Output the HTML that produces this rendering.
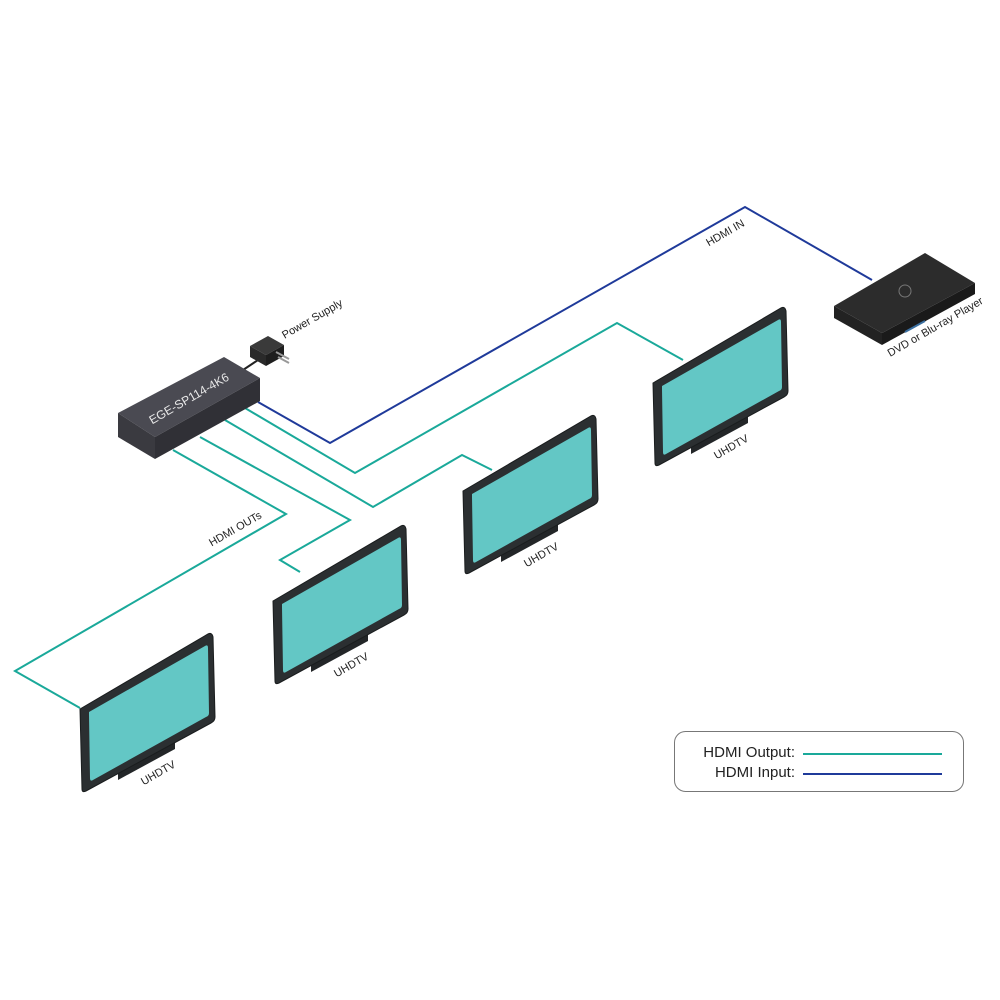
<!DOCTYPE html>
<html><head><meta charset="utf-8"><style>
html,body{margin:0;padding:0;background:#fff;}
svg{display:block;}
text{font-family:"Liberation Sans",sans-serif;}
</style></head><body>
<svg width="1000" height="1000" viewBox="0 0 1000 1000" xmlns="http://www.w3.org/2000/svg">
<defs>
<g id="tv">
  <polygon points="38,60 95,30 95,46 38,77" fill="#232628"/>
  <path d="M0,6 L128,-69 Q132,-71 133,-66 L135,14 Q135,18 131,20 L6,88 Q2,90 2,86 L0,6 Z" fill="#2b2f31" stroke="#1a1d1e" stroke-width="1"/>
  <path d="M9,9 L125,-57 Q128,-59 128,-55 L129,10 Q129,13 126,14 L13,77 Q10,79 10,75 L9,12 Z" fill="#63c7c5"/>
</g>
</defs>

<g fill="none" stroke-width="2" stroke-linejoin="miter">
  <polyline points="258,402 330,443 745,207 872,280" stroke="#1f3a9a"/>
  <polyline points="245,408 355,473 617,323 683,360" stroke="#1aa99a"/>
  <polyline points="225,420 373,507 462,455 492,470" stroke="#1aa99a"/>
  <polyline points="200,437 350,520 280,560 300,572" stroke="#1aa99a"/>
  <polyline points="173,450 286,514 15,671 80,708" stroke="#1aa99a"/>
</g>

<line x1="243" y1="370" x2="258" y2="360" stroke="#222" stroke-width="2"/>
<polygon points="118,413 224,357 260,378 155,437" fill="#4a4a52"/>
<polygon points="155,437 260,378 260,401 155,459" fill="#303036"/>
<polygon points="118,413 155,437 155,459 118,437" fill="#3a3a40"/>
<text x="0" y="0" fill="#e8e8e8" font-size="12" text-anchor="middle" transform="translate(191,402) rotate(-30)">EGE-SP114-4K6</text>

<polygon points="250,346 268,336 284,345 266,355" fill="#3a3a3a"/>
<polygon points="266,355 284,345 284,356 266,366" fill="#1e1e1e"/>
<polygon points="250,346 266,355 266,366 250,357" fill="#2a2a2a"/>
<line x1="276" y1="352" x2="289" y2="359" stroke="#999" stroke-width="2"/>
<line x1="278" y1="357" x2="289" y2="363" stroke="#999" stroke-width="2"/>
<text x="0" y="0" fill="#222" font-size="11" text-anchor="middle" transform="translate(314,322) rotate(-30)">Power Supply</text>

<polygon points="834,306 925,253 975,283 882,333" fill="#2c2c2c"/>
<polygon points="882,333 975,283 975,294 882,345" fill="#1a1a1a"/>
<polygon points="834,306 882,333 882,345 834,318" fill="#222"/>
<circle cx="905" cy="291" r="6" fill="none" stroke="#777" stroke-width="1"/>
<line x1="905" y1="332" x2="925" y2="321" stroke="#3b6fa0" stroke-width="2"/>
<text x="0" y="0" fill="#222" font-size="11" text-anchor="middle" transform="translate(937,330) rotate(-30)">DVD or Blu-ray Player</text>
<text x="0" y="0" fill="#222" font-size="11" text-anchor="middle" transform="translate(727,236) rotate(-30)">HDMI IN</text>
<text x="0" y="0" fill="#222" font-size="11" text-anchor="middle" transform="translate(237,532) rotate(-30)">HDMI OUTs</text>

<use href="#tv" transform="translate(653,377)"/>
<use href="#tv" transform="translate(463,485)"/>
<use href="#tv" transform="translate(273,595)"/>
<use href="#tv" transform="translate(80,703)"/>
<g fill="#222" font-size="11" text-anchor="middle">
  <text transform="translate(733,450) rotate(-30)">UHDTV</text>
  <text transform="translate(543,558) rotate(-30)">UHDTV</text>
  <text transform="translate(353,668) rotate(-30)">UHDTV</text>
  <text transform="translate(160,776) rotate(-30)">UHDTV</text>
</g>

<rect x="674.5" y="731.5" width="289" height="60" rx="11" fill="#fff" stroke="#777" stroke-width="1"/>
<text x="795" y="757" font-size="15" fill="#222" text-anchor="end">HDMI Output:</text>
<text x="795" y="777" font-size="15" fill="#222" text-anchor="end">HDMI Input:</text>
<line x1="803" y1="754" x2="942" y2="754" stroke="#1aa99a" stroke-width="2"/>
<line x1="803" y1="774" x2="942" y2="774" stroke="#1f3a9a" stroke-width="2"/>
</svg>
</body></html>
